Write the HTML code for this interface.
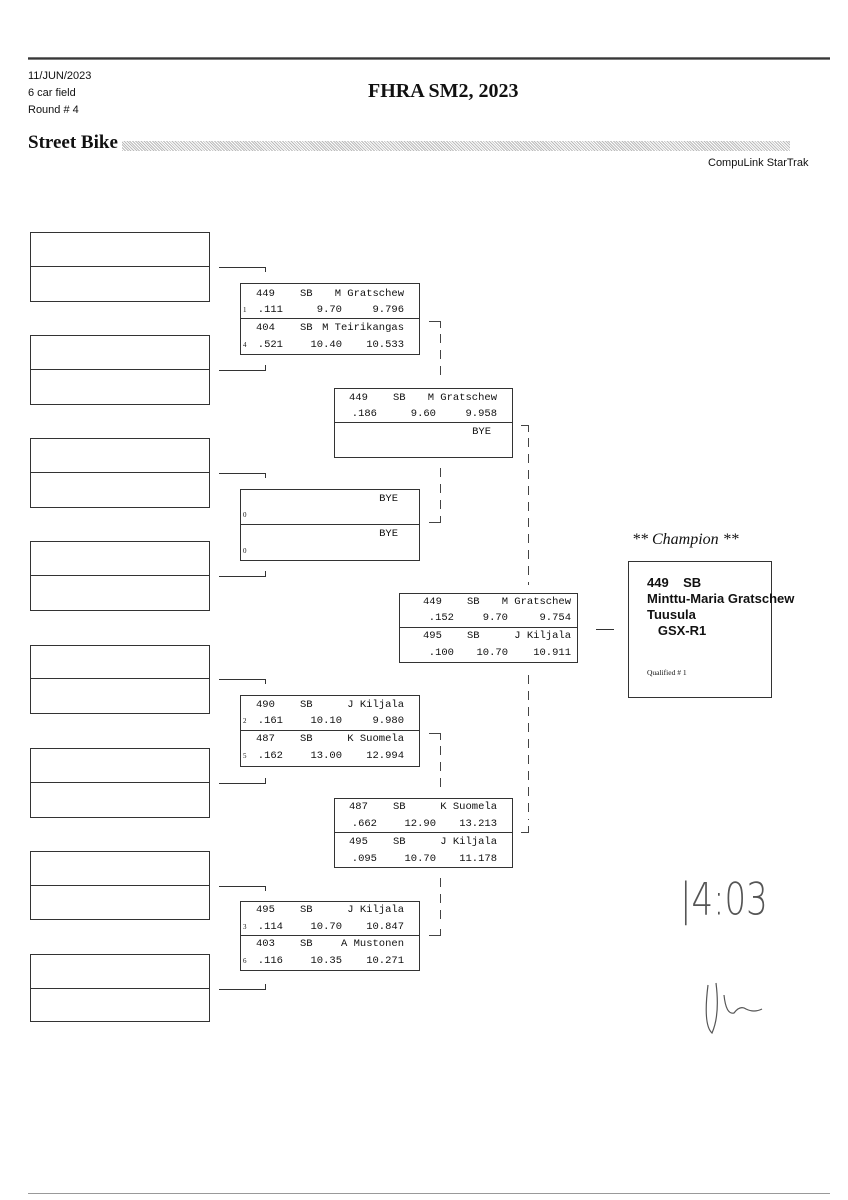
<!DOCTYPE html>
<html><head><meta charset="utf-8"><style>
body{margin:0;width:848px;height:1200px;background:#fff;position:relative;overflow:hidden;font-family:"Liberation Sans",sans-serif;color:#111}
.a{position:absolute}
.m{position:absolute;font-family:"Liberation Mono",monospace;font-size:10.5px;white-space:nowrap;line-height:12px}
.r{text-align:right}
.s{position:absolute;font-family:"Liberation Serif",serif;font-size:7px}
</style></head><body>
<div class="a" style="left:28px;top:57px;width:802px;height:3px;background:linear-gradient(#999,#222,#aaa)"></div>
<div class="a" style="left:28px;top:68px;font-size:11px;line-height:17px">11/JUN/2023<br>6 car field<br>Round # 4</div>
<div class="a" style="left:368px;top:80px;font-family:'Liberation Serif',serif;font-weight:bold;font-size:20px">FHRA SM2, 2023</div>
<div class="a" style="left:28px;top:132px;font-family:'Liberation Serif',serif;font-weight:bold;font-size:19px">Street Bike</div>
<div class="a" style="left:122px;top:141px;width:668px;height:10px;background:repeating-linear-gradient(45deg,#bbb 0 1px,#fff 1px 2px)"></div>
<div class="a" style="left:708px;top:157px;font-size:11px">CompuLink StarTrak</div>

<svg class="a" style="left:0;top:0" width="848" height="1200">
<g fill="none" stroke="#333" stroke-width="1">
<rect x="30.5" y="232.5" width="179" height="69"/><line x1="30" y1="266.5" x2="209" y2="266.5"/>
<rect x="30.5" y="335.5" width="179" height="69"/><line x1="30" y1="369.5" x2="209" y2="369.5"/>
<rect x="30.5" y="438.5" width="179" height="69"/><line x1="30" y1="472.5" x2="209" y2="472.5"/>
<rect x="30.5" y="541.5" width="179" height="69"/><line x1="30" y1="575.5" x2="209" y2="575.5"/>
<rect x="30.5" y="645.5" width="179" height="68"/><line x1="30" y1="678.5" x2="209" y2="678.5"/>
<rect x="30.5" y="748.5" width="179" height="69"/><line x1="30" y1="782.5" x2="209" y2="782.5"/>
<rect x="30.5" y="851.5" width="179" height="68"/><line x1="30" y1="885.5" x2="209" y2="885.5"/>
<rect x="30.5" y="954.5" width="179" height="67"/><line x1="30" y1="988.5" x2="209" y2="988.5"/>
<path d="M219 267.5H265.5V272"/><path d="M219 370.5H265.5V365"/>
<path d="M219 473.5H265.5V478"/><path d="M219 576.5H265.5V571"/>
<path d="M219 679.5H265.5V684"/><path d="M219 783.5H265.5V778"/>
<path d="M219 886.5H265.5V891"/><path d="M219 989.5H265.5V984"/>
<rect x="240.5" y="283.5" width="179" height="71"/><line x1="240" y1="318.5" x2="419" y2="318.5"/>
<rect x="240.5" y="489.5" width="179" height="71"/><line x1="240" y1="524.5" x2="419" y2="524.5"/>
<rect x="240.5" y="695.5" width="179" height="71"/><line x1="240" y1="730.5" x2="419" y2="730.5"/>
<rect x="240.5" y="901.5" width="179" height="69"/><line x1="240" y1="935.5" x2="419" y2="935.5"/>
<rect x="334.5" y="388.5" width="178" height="69"/><line x1="334" y1="422.5" x2="512" y2="422.5"/>
<rect x="334.5" y="798.5" width="178" height="69"/><line x1="334" y1="832.5" x2="512" y2="832.5"/>
<rect x="399.5" y="593.5" width="178" height="69"/><line x1="399" y1="627.5" x2="577" y2="627.5"/>
<rect x="628.5" y="561.5" width="143" height="136"/>
<line x1="596" y1="629.5" x2="614" y2="629.5"/>
</g>
<g fill="none" stroke="#444" stroke-width="1" stroke-dasharray="9,7">
<path d="M429 321.5H440.5V328" stroke-dasharray="none"/><line x1="440.5" y1="334" x2="440.5" y2="380"/>
<path d="M521 425.5H528.5V432" stroke-dasharray="none"/><line x1="528.5" y1="438" x2="528.5" y2="585"/>
<line x1="440.5" y1="468" x2="440.5" y2="510"/><path d="M429 522.5H440.5V516" stroke-dasharray="none"/>
<line x1="528.5" y1="675" x2="528.5" y2="820"/><path d="M521 832.5H528.5V826" stroke-dasharray="none"/>
<path d="M429 733.5H440.5V740" stroke-dasharray="none"/><line x1="440.5" y1="746" x2="440.5" y2="792"/>
<line x1="440.5" y1="878" x2="440.5" y2="923"/><path d="M429 935.5H440.5V929" stroke-dasharray="none"/>
</g>
</svg>

<div class="m" style="left:256px;top:288px">449</div><div class="m" style="left:300px;top:288px">SB</div><div class="m r" style="left:300px;width:104px;top:288px">M Gratschew</div>
<div class="s" style="left:243px;top:306px">1</div><div class="m r" style="left:240px;width:43px;top:304px">.111</div><div class="m r" style="left:290px;width:52px;top:304px">9.70</div><div class="m r" style="left:340px;width:64px;top:304px">9.796</div>
<div class="m" style="left:256px;top:322px">404</div><div class="m" style="left:300px;top:322px">SB</div><div class="m r" style="left:300px;width:104px;top:322px">M Teirikangas</div>
<div class="s" style="left:243px;top:341px">4</div><div class="m r" style="left:240px;width:43px;top:339px">.521</div><div class="m r" style="left:290px;width:52px;top:339px">10.40</div><div class="m r" style="left:340px;width:64px;top:339px">10.533</div>
<div class="m r" style="left:300px;width:98px;top:493px">BYE</div><div class="s" style="left:243px;top:511px">0</div>
<div class="m r" style="left:300px;width:98px;top:528px">BYE</div><div class="s" style="left:243px;top:547px">0</div>
<div class="m" style="left:256px;top:699px">490</div><div class="m" style="left:300px;top:699px">SB</div><div class="m r" style="left:300px;width:104px;top:699px">J Kiljala</div>
<div class="s" style="left:243px;top:717px">2</div><div class="m r" style="left:240px;width:43px;top:715px">.161</div><div class="m r" style="left:290px;width:52px;top:715px">10.10</div><div class="m r" style="left:340px;width:64px;top:715px">9.980</div>
<div class="m" style="left:256px;top:733px">487</div><div class="m" style="left:300px;top:733px">SB</div><div class="m r" style="left:300px;width:104px;top:733px">K Suomela</div>
<div class="s" style="left:243px;top:752px">5</div><div class="m r" style="left:240px;width:43px;top:750px">.162</div><div class="m r" style="left:290px;width:52px;top:750px">13.00</div><div class="m r" style="left:340px;width:64px;top:750px">12.994</div>
<div class="m" style="left:256px;top:904px">495</div><div class="m" style="left:300px;top:904px">SB</div><div class="m r" style="left:300px;width:104px;top:904px">J Kiljala</div>
<div class="s" style="left:243px;top:923px">3</div><div class="m r" style="left:240px;width:43px;top:921px">.114</div><div class="m r" style="left:290px;width:52px;top:921px">10.70</div><div class="m r" style="left:340px;width:64px;top:921px">10.847</div>
<div class="m" style="left:256px;top:938px">403</div><div class="m" style="left:300px;top:938px">SB</div><div class="m r" style="left:300px;width:104px;top:938px">A Mustonen</div>
<div class="s" style="left:243px;top:957px">6</div><div class="m r" style="left:240px;width:43px;top:955px">.116</div><div class="m r" style="left:290px;width:52px;top:955px">10.35</div><div class="m r" style="left:340px;width:64px;top:955px">10.271</div>
<div class="m" style="left:349px;top:392px">449</div><div class="m" style="left:393px;top:392px">SB</div><div class="m r" style="left:393px;width:104px;top:392px">M Gratschew</div>
<div class="m r" style="left:334px;width:43px;top:408px">.186</div><div class="m r" style="left:384px;width:52px;top:408px">9.60</div><div class="m r" style="left:433px;width:64px;top:408px">9.958</div>
<div class="m r" style="left:393px;width:98px;top:426px">BYE</div>
<div class="m" style="left:349px;top:801px">487</div><div class="m" style="left:393px;top:801px">SB</div><div class="m r" style="left:393px;width:104px;top:801px">K Suomela</div>
<div class="m r" style="left:334px;width:43px;top:818px">.662</div><div class="m r" style="left:384px;width:52px;top:818px">12.90</div><div class="m r" style="left:433px;width:64px;top:818px">13.213</div>
<div class="m" style="left:349px;top:836px">495</div><div class="m" style="left:393px;top:836px">SB</div><div class="m r" style="left:393px;width:104px;top:836px">J Kiljala</div>
<div class="m r" style="left:334px;width:43px;top:853px">.095</div><div class="m r" style="left:384px;width:52px;top:853px">10.70</div><div class="m r" style="left:433px;width:64px;top:853px">11.178</div>
<div class="m" style="left:423px;top:596px">449</div><div class="m" style="left:467px;top:596px">SB</div><div class="m r" style="left:467px;width:104px;top:596px">M Gratschew</div>
<div class="m r" style="left:410px;width:44px;top:612px">.152</div><div class="m r" style="left:460px;width:48px;top:612px">9.70</div><div class="m r" style="left:507px;width:64px;top:612px">9.754</div>
<div class="m" style="left:423px;top:630px">495</div><div class="m" style="left:467px;top:630px">SB</div><div class="m r" style="left:467px;width:104px;top:630px">J Kiljala</div>
<div class="m r" style="left:410px;width:44px;top:647px">.100</div><div class="m r" style="left:460px;width:48px;top:647px">10.70</div><div class="m r" style="left:507px;width:64px;top:647px">10.911</div>
<div class="a" style="left:632px;top:531px;font-family:'Liberation Serif',serif;font-style:italic;font-size:16px">** Champion **</div>
<div class="a" style="left:647px;top:575px;font-size:13px;font-weight:bold;line-height:16px;white-space:nowrap">449&nbsp;&nbsp;&nbsp;&nbsp;SB<br>Minttu-Maria Gratschew<br>Tuusula<br>&nbsp;&nbsp;&nbsp;GSX-R1</div>
<div class="a" style="left:647px;top:668px;font-family:'Liberation Serif',serif;font-size:7.5px">Qualified # 1</div>
<div class="a" style="left:680px;top:880px;font-family:'DejaVu Sans',sans-serif;font-size:34px;color:#555;transform:scaleY(1.3);font-weight:100">|4:03</div>
<svg class="a" style="left:700px;top:975px" width="80" height="70"><path d="M8 10 Q3 50 12 58 Q20 40 16 8 M24 20 Q26 40 34 38 Q40 30 46 34 Q54 38 62 34" fill="none" stroke="#555" stroke-width="1.2"/></svg>
<div class="a" style="left:28px;top:1193px;width:802px;height:1px;background:#999"></div>
</body></html>
